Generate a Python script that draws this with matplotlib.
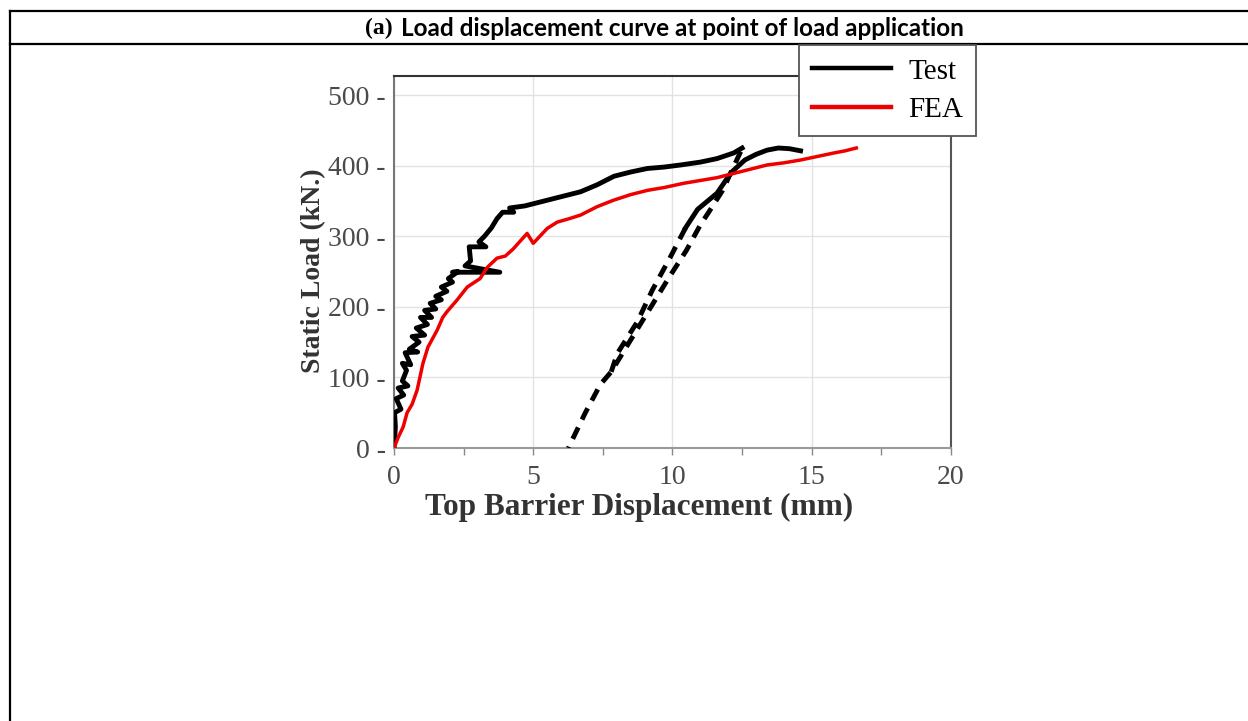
import numpy as np
import matplotlib
matplotlib.use("Agg")
import matplotlib.pyplot as plt
from matplotlib.lines import Line2D
from matplotlib.ticker import MultipleLocator

# test loading branch (x mm, load kN) - noisy part
test_load = [(0.00, 0), (0.05, 30), (0.02, 50), (0.25, 55), (0.08, 70), (0.35, 75),
             (0.15, 85), (0.50, 88), (0.30, 95), (0.45, 110), (0.30, 120), (0.60, 118),
             (0.40, 135), (0.85, 136), (0.55, 140), (0.90, 150), (0.65, 158), (1.10, 160),
             (0.80, 170), (1.20, 175), (0.95, 185), (1.35, 185), (1.10, 195), (1.50, 197),
             (1.30, 205), (1.70, 210), (1.50, 215), (1.90, 222), (1.70, 228), (2.10, 235),
             (1.95, 240), (2.30, 250), (2.10, 249), (3.80, 249), (2.55, 258), (2.75, 265),
             (2.70, 285), (3.30, 285), (3.05, 292), (3.25, 300), (3.50, 312), (3.70, 325),
             (3.90, 334), (4.30, 334), (4.15, 340), (4.70, 343), (5.50, 351), (6.10, 357),
             (6.70, 363), (7.30, 373), (7.90, 385), (8.50, 391), (9.10, 396), (9.70, 398),
             (10.30, 401), (11.00, 405), (11.60, 410), (12.20, 418), (12.50, 425)]
# unloading (dashed) from the peak down to residual displacement
test_unload = [(12.45, 420), (11.80, 365), (11.30, 334), (11.00, 316), (10.50, 280),
               (9.85, 240), (9.15, 195), (8.45, 150), (7.80, 108), (7.41, 90),
               (6.87, 50), (6.26, 0)]
# reloading (dashed part then solid part); below ~108 kN it runs on the unloading line
test_reload_dash = [(7.80, 108), (8.02, 134), (8.74, 179), (9.28, 224), (9.93, 271),
                    (10.47, 312)]
test_reload = [(10.47, 312), (10.90, 338), (11.60, 361), (12.10, 390), (12.60, 408),
               (13.00, 416), (13.40, 422), (13.80, 425), (14.20, 424), (14.60, 421)]

fea = [(0, 0), (0.15, 15), (0.33, 30), (0.47, 50), (0.65, 62), (0.83, 82), (1.04, 120),
       (1.22, 143), (1.55, 167), (1.75, 185), (1.90, 193), (2.27, 210), (2.63, 228),
       (3.09, 240), (3.35, 256), (3.70, 269), (4.00, 272), (4.28, 282), (4.78, 304),
       (5.00, 290), (5.50, 311), (5.86, 320), (6.30, 325), (6.70, 330), (7.30, 342),
       (7.88, 351), (8.50, 359), (9.10, 365), (9.70, 369), (10.40, 375), (11.00, 379),
       (11.60, 383), (12.20, 389), (12.80, 395), (13.40, 401), (14.00, 404), (14.60, 408),
       (15.20, 413), (15.80, 418), (16.20, 421), (16.60, 425)]

x_ticks = [0, 5, 10, 15, 20]
y_ticks = [0, 100, 200, 300, 400, 500]

title_tag = "(a)"
title_text = "Load displacement curve at point of load application"


def xy(pts):
    a = np.array(pts, dtype=float)
    return a[:, 0], a[:, 1]


fig = plt.figure(figsize=(12.48, 7.21), dpi=100)
ax = fig.add_axes([0.3157, 0.3786, 0.4463, 0.516])

black_lw = 3.5
dash = (0, (2.6, 1.8))
ax.plot(*xy(test_load), color="black", lw=black_lw, solid_joinstyle="round", zorder=3)
ax.plot(*xy(test_unload), color="black", lw=black_lw, ls=dash, zorder=3)
ax.plot(*xy(test_reload_dash), color="black", lw=black_lw, ls=dash, zorder=3)
ax.plot(*xy(test_reload), color="black", lw=black_lw, zorder=3)
ax.plot(*xy(fea), color="#ee0000", lw=2.5, zorder=4)

ax.set_xlim(0, 20)
ax.set_ylim(0, 527)
ax.set_xticks(x_ticks)
ax.xaxis.set_minor_locator(MultipleLocator(2.5))
ax.set_yticks(y_ticks)
ax.set_yticklabels([f"{v} -" for v in y_ticks])

serif = "Liberation Serif"
ax.tick_params(axis="x", which="both", direction="out", length=5, width=1,
               color="#888888", labelsize=20, labelcolor="#4a4a4a", pad=7)
ax.tick_params(axis="y", length=0, labelsize=20, labelcolor="#4a4a4a", pad=6)
for lab in ax.get_xticklabels() + ax.get_yticklabels():
    lab.set_fontfamily(serif)

ax.grid(True, color="#e2e2e2", lw=1.0)
ax.set_axisbelow(True)
for side, col in [("left", "#777777"), ("bottom", "#999999"),
                  ("top", "#333333"), ("right", "#555555")]:
    ax.spines[side].set_color(col)
    ax.spines[side].set_linewidth(1.5)

ax.set_xlabel("Top Barrier Displacement (mm)", fontsize=22.5, fontweight="bold",
              family=serif, color="#333333")
ax.xaxis.set_label_coords(0.44, -0.122)
ax.set_ylabel("Static Load (kN.)", fontsize=20, fontweight="bold",
              family=serif, color="#333333")
ax.yaxis.set_label_coords(-0.122, 0.476)

handles = [Line2D([], [], color="black", lw=3.2), Line2D([], [], color="#ee0000", lw=3.2)]
leg = fig.legend(handles, ["Test", "FEA"], loc="upper left",
                 bbox_to_anchor=(0.640, 0.9376), fancybox=False, framealpha=1,
                 edgecolor="#555555", prop={"family": serif, "size": 21},
                 handlelength=2.7, handletextpad=0.6, borderpad=0.45,
                 labelspacing=0.42, borderaxespad=0)
leg.get_frame().set_linewidth(1.3)

# table frame around the figure
frame_kw = dict(color="black", lw=1.6, transform=fig.transFigure)
fig.add_artist(Line2D([0.008, 1.0], [0.9847, 0.9847], **frame_kw))
fig.add_artist(Line2D([0.008, 1.0], [0.939, 0.939], **frame_kw))
fig.add_artist(Line2D([0.008, 0.008], [0.0, 0.9847], **frame_kw))

fig.text(0.315, 0.9605, title_tag, ha="right", va="center", fontsize=17,
         fontweight="bold", family=serif)
fig.text(0.321, 0.9605, title_text, ha="left", va="center", fontsize=17.5,
         fontweight="bold", family="Lato")

fig.savefig("out.png", dpi=100)
